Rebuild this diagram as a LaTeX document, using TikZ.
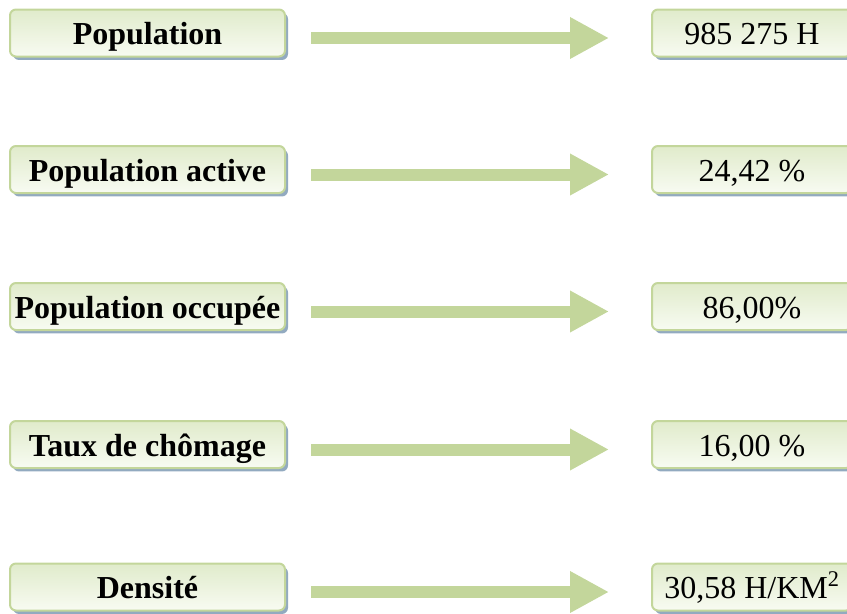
\documentclass[tikz,border=0pt]{standalone}
\usepackage{xcolor}
\usepackage{fontspec}
\setmainfont{Liberation Serif}
\usepackage{tikz}
\usetikzlibrary{arrows.meta,calc,shadows}

\definecolor{boxline}{RGB}{195,214,155}
\definecolor{boxtop}{RGB}{224,235,203}
\definecolor{boxbot}{RGB}{248,251,242}
\definecolor{boxshadow}{RGB}{146,170,192}

\tikzset{
  label box/.style={draw=boxline, line width=1.5pt, rounded corners=4.5pt,
    top color=boxtop, bottom color=boxbot,
    drop shadow={shadow xshift=2.25pt, shadow yshift=-2.6pt, fill=boxshadow, opacity=1},
    minimum width=206.25pt, minimum height=35.25pt, inner sep=0pt,
    text height=19.5pt, text depth=2pt,
    font=\fontsize{24}{28}\selectfont\bfseries},
  value box/.style={label box, minimum width=150pt, font=\fontsize{24}{28}\selectfont},
  fat arrow/.style={draw=boxline, line width=9pt,
    -{Triangle[length=29.25pt, width=29.25pt]}}
}

\begin{document}
\begin{tikzpicture}[x=0.75pt,y=0.75pt,yscale=-1,xscale=1]
\path[use as bounding box] (0,0) rectangle (847,614);
\clip (0,0) rectangle (847,614);

% Text Node
\node [label box] (pop) at (147.5,33) {Population};
% Text Node
\node [value box] (popv) at (752,33) {985 275 H};
% Text Node
\node [label box] (act) at (147.5,169.5) {Population active};
% Text Node
\node [value box] (actv) at (752,169.5) {24,42 \%};
% Text Node
\node [label box] (occ) at (147.5,306.5) {Population occupée};
% Text Node
\node [value box] (occv) at (752,306.5) {86,00\%};
% Text Node
\node [label box] (cho) at (147.5,444.5) {Taux de chômage};
% Text Node
\node [value box] (chov) at (752,444.5) {16,00 \%};
% Text Node
\node [label box] (den) at (147.5,587) {Densité};
% Text Node
\node [value box] (denv) at (752,587) {30,58 H/KM\textsuperscript{2}};

%Block Arrows
\draw [fat arrow] ($(pop.east)+(25,5)$) -- ($(popv.west)+(-42,5)$);
\draw [fat arrow] ($(act.east)+(25,5)$) -- ($(actv.west)+(-42,5)$);
\draw [fat arrow] ($(occ.east)+(25,5)$) -- ($(occv.west)+(-42,5)$);
\draw [fat arrow] ($(cho.east)+(25,5)$) -- ($(chov.west)+(-42,5)$);
\draw [fat arrow] ($(den.east)+(25,5)$) -- ($(denv.west)+(-42,5)$);

\end{tikzpicture}
\end{document}
